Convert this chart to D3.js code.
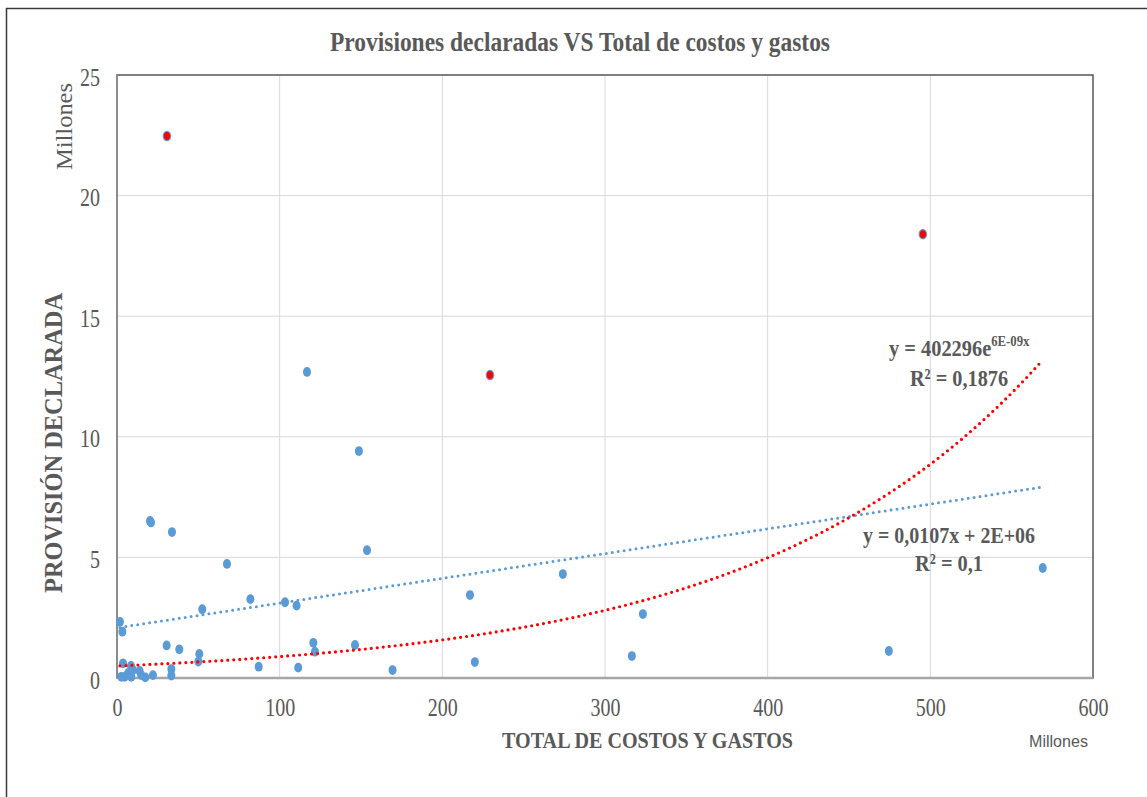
<!DOCTYPE html>
<html>
<head>
<meta charset="utf-8">
<script src="https://cdn.jsdelivr.net/npm/d3@7"></script>
<style>
  body { margin: 0; background: #fff; }
  svg { display: block; }
</style>
</head>
<body>
<svg id="chart" width="1147" height="797"></svg>
<script>
// valores en millones
const costos = [116.8, 148.7, 20.3, 20.9, 33.8, 67.6, 153.7, 274.1, 217.0, 323.3,
    569.1, 474.5, 316.5, 220.0, 169.4, 120.7, 121.7, 146.3, 111.4, 87.1,
    82.0, 52.4, 103.3, 110.4, 30.5, 38.3, 50.6, 50.0, 1.8, 3.3,
    3.7, 8.6, 2.7, 4.7, 6.8, 8.8, 9.8, 13.9, 14.9, 17.4,
    22.1, 33.4, 33.4];
const provisiones = [12.69, 9.41, 6.51, 6.45, 6.05, 4.73, 5.30, 4.31, 3.44, 2.65,
    4.56, 1.12, 0.91, 0.66, 0.33, 1.46, 1.09, 1.37, 0.43, 0.47,
    3.27, 2.85, 3.14, 3.00, 1.35, 1.19, 1.00, 0.68, 2.33, 1.92,
    0.61, 0.50, 0.05, 0.05, 0.20, 0.05, 0.33, 0.29, 0.12, 0.03,
    0.12, 0.37, 0.10];
// puntos marcados en rojo
const costosDestacados = [30.7, 495.4, 229.3];
const provisionesDestacadas = [22.47, 18.4, 12.56];

const xTicks = [0, 100, 200, 300, 400, 500, 600];
const yTicks = [0, 5, 10, 15, 20, 25];

// lineas de tendencia (en millones)
const expA = 0.5, expB = 0.00575;   // exponencial
const linA = 2.08, linB = 0.01026;  // lineal

const svg = d3.select("#chart");
const gray = "#595959";

const x = d3.scaleLinear().domain([0, 600]).range([117, 1093]);
const y = d3.scaleLinear().domain([0, 25]).range([678, 75]);

// marco exterior
svg.append("rect")
    .attr("x", 6.5).attr("y", 8.5)
    .attr("width", 1150).attr("height", 800)
    .attr("fill", "#fff")
    .attr("stroke", "#3a3a3a")
    .attr("stroke-width", 1.5);

// rejilla
svg.append("g")
    .selectAll("line")
    .data(xTicks.slice(1, -1))
    .join("line")
    .attr("x1", d => x(d)).attr("x2", d => x(d))
    .attr("y1", y(0)).attr("y2", y(25))
    .attr("stroke", "#d9d9d9").attr("stroke-width", 1);

svg.append("g")
    .selectAll("line")
    .data(yTicks.slice(1, -1))
    .join("line")
    .attr("x1", x(0)).attr("x2", x(600))
    .attr("y1", d => y(d)).attr("y2", d => y(d))
    .attr("stroke", "#d9d9d9").attr("stroke-width", 1);

// borde del area de trazado
svg.append("rect")
    .attr("x", x(0)).attr("y", y(25))
    .attr("width", x(600) - x(0)).attr("height", y(0) - y(25))
    .attr("fill", "none")
    .attr("stroke", "#555")
    .attr("stroke-width", 1.5);

// ejes
const xAxis = svg.append("g")
    .attr("transform", `translate(0,${y(0)})`)
    .call(d3.axisBottom(x).tickValues(xTicks).tickSize(0).tickFormat(d3.format("d")));
xAxis.select(".domain").remove();
xAxis.selectAll("text")
    .attr("y", 0).attr("dy", 0)
    .attr("transform", "translate(0,38) scale(0.8,1)")
    .attr("font-family", "Liberation Serif, serif")
    .attr("font-size", 25)
    .attr("fill", gray);

const yAxis = svg.append("g")
    .attr("transform", `translate(${x(0)},0)`)
    .call(d3.axisLeft(y).tickValues(yTicks).tickSize(0).tickFormat(d3.format("d")));
yAxis.select(".domain").remove();
yAxis.selectAll("text")
    .attr("x", 0).attr("dy", 0)
    .attr("text-anchor", "end")
    .attr("transform", "translate(-17,10) scale(0.8,1)")
    .attr("font-family", "Liberation Serif, serif")
    .attr("font-size", 25)
    .attr("fill", gray);

svg.append("line")
    .attr("x1", x(0)).attr("x2", x(600))
    .attr("y1", y(0)).attr("y2", y(0))
    .attr("stroke", "#a6a6a6").attr("stroke-width", 2.5);
svg.append("line")
    .attr("x1", x(0)).attr("x2", x(0))
    .attr("y1", y(0)).attr("y2", y(25))
    .attr("stroke", "#8c8c8c").attr("stroke-width", 2);

// puntos
svg.append("g")
    .selectAll("ellipse")
    .data(costos.map((c, i) => [c, provisiones[i]]))
    .join("ellipse")
    .attr("cx", d => x(d[0]))
    .attr("cy", d => y(d[1]))
    .attr("rx", 4).attr("ry", 4.9)
    .attr("fill", "#5b9bd5");

svg.append("g")
    .selectAll("ellipse")
    .data(costosDestacados.map((c, i) => [c, provisionesDestacadas[i]]))
    .join("ellipse")
    .attr("cx", d => x(d[0]))
    .attr("cy", d => y(d[1]))
    .attr("rx", 3.7).attr("ry", 4.6)
    .attr("fill", "#ff0000")
    .attr("stroke", "#5b9bd5")
    .attr("stroke-width", 1.2);

// tendencias
const xMin = d3.min(costos), xMax = d3.max(costos);
const xs = d3.range(xMin, xMax, 2).concat([xMax]);
const line = d3.line().x(d => x(d[0])).y(d => y(d[1]));

svg.append("path")
    .datum(xs.map(v => [v, linA + linB * v]))
    .attr("d", line)
    .attr("fill", "none")
    .attr("stroke", "#5b9bd5")
    .attr("stroke-width", 3)
    .attr("stroke-linecap", "round")
    .attr("stroke-dasharray", "0 6");

svg.append("path")
    .datum(xs.map(v => [v, expA * Math.exp(expB * v)]))
    .attr("d", line)
    .attr("fill", "none")
    .attr("stroke", "#ff0000")
    .attr("stroke-width", 3.2)
    .attr("stroke-linecap", "round")
    .attr("stroke-dasharray", "0 6");

// textos
const serif = "Liberation Serif, serif";

svg.append("text")
    .attr("x", 330).attr("y", 51)
    .attr("textLength", 500).attr("lengthAdjust", "spacingAndGlyphs")
    .attr("font-family", serif).attr("font-weight", "bold")
    .attr("font-size", 27).attr("fill", gray)
    .text("Provisiones declaradas VS Total de costos y gastos");

svg.append("text")
    .attr("transform", "translate(62,593) rotate(-90)")
    .attr("textLength", 300).attr("lengthAdjust", "spacingAndGlyphs")
    .attr("font-family", serif).attr("font-weight", "bold")
    .attr("font-size", 25).attr("fill", gray)
    .text("PROVISIÓN DECLARADA");

svg.append("text")
    .attr("transform", "translate(72,170) rotate(-90)")
    .attr("textLength", 87).attr("lengthAdjust", "spacingAndGlyphs")
    .attr("font-family", serif)
    .attr("font-size", 24).attr("fill", gray)
    .text("Millones");

svg.append("text")
    .attr("x", 502).attr("y", 748)
    .attr("textLength", 291).attr("lengthAdjust", "spacingAndGlyphs")
    .attr("font-family", serif).attr("font-weight", "bold")
    .attr("font-size", 24).attr("fill", gray)
    .text("TOTAL DE COSTOS Y GASTOS");

svg.append("text")
    .attr("x", 1029).attr("y", 747)
    .attr("textLength", 59).attr("lengthAdjust", "spacingAndGlyphs")
    .attr("font-family", "Liberation Sans, sans-serif")
    .attr("font-size", 17).attr("fill", gray)
    .text("Millones");

// ecuaciones
function label(tx, ty, len, size, str) {
    svg.append("text")
        .attr("x", tx).attr("y", ty)
        .attr("textLength", len).attr("lengthAdjust", "spacingAndGlyphs")
        .attr("font-family", serif).attr("font-weight", "bold")
        .attr("font-size", size).attr("fill", gray)
        .text(str);
}
const expLabel = svg.append("text")
    .attr("transform", "translate(889,356) scale(0.85,1)")
    .attr("font-family", serif).attr("font-weight", "bold")
    .attr("font-size", 24).attr("fill", gray);
expLabel.append("tspan").text("y = 402296e");
expLabel.append("tspan").attr("dy", -10).attr("font-size", 15).text("6E-09x");

label(910, 386, 98, 24, "R² = 0,1876");
label(863, 543, 172, 24, "y = 0,0107x + 2E+06");
label(915, 571, 68, 24, "R² = 0,1");
</script>
</body>
</html>
